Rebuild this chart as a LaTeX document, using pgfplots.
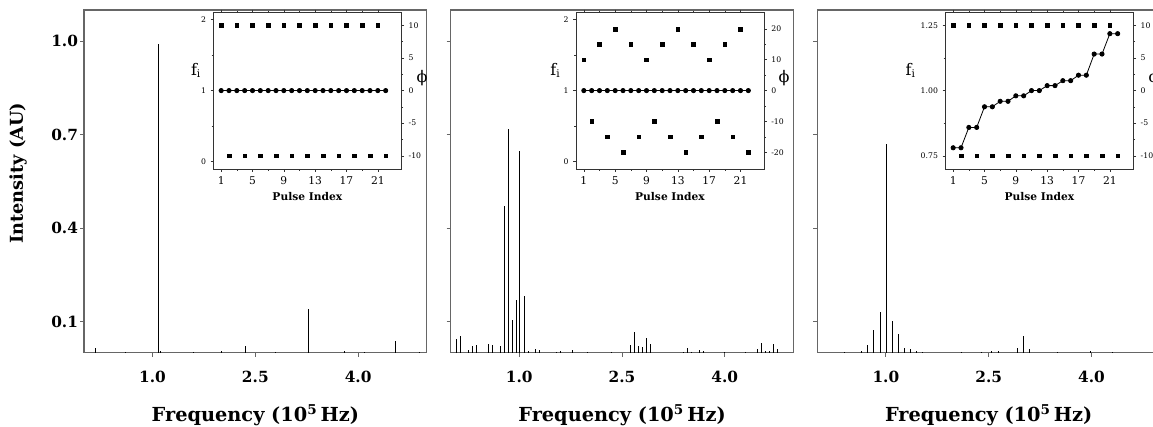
\documentclass[border=0pt]{standalone}
\usepackage{fontspec}
\setmainfont{DejaVu Serif}
\usepackage{pgfplots}
\pgfplotsset{compat=1.18}

\pgfplotsset{
  mainax/.style={
    scale only axis, width=257pt, height=257pt, anchor=south west, clip=false,
    xmin=0, xmax=5, ymin=0, ymax=1.1,
    xtick={1.0,2.5,4.0}, ytick={0.1,0.4,0.7,1.0},
    tick align=outside, tick pos=left, major tick length=3pt,
    axis line style={draw=black!60, line width=0.8pt},
    tick style={draw=black!60, line width=0.7pt},
    ticklabel style={font=\fontsize{11.5}{13}\selectfont\bfseries},
    xticklabel style={yshift=-7pt},
    yticklabel style={xshift=2pt},
    /pgf/number format/assume math mode=true,
    /pgf/number format/fixed, /pgf/number format/fixed zerofill,
    /pgf/number format/precision=1,
    xlabel={Frequency (10\textsuperscript{5}\,Hz)},
    xlabel style={font=\fontsize{14.5}{16}\selectfont\bfseries, at={(axis description cs:0.5,0)}, anchor=base, yshift=-51.75pt},
  },
  spec/.style={ycomb, black, line width=0.75pt, mark=none},
  insetax/.style={
    scale only axis, width=141pt, height=117.5pt, anchor=north west, clip=false,
    xmin=0, xmax=24, xtick={1,5,9,13,17,21}, minor x tick num=1,
    minor y tick num=1,
    tick align=outside, major tick length=2pt, minor tick length=1.3pt,
    axis line style={draw=black!80, line width=0.6pt},
    tick style={draw=black!80, line width=0.5pt},
    yticklabel style={font=\fontsize{5.8}{6}\selectfont},
    xticklabel style={font=\fontsize{8}{9}\selectfont},
    /pgf/number format/assume math mode=true,
  },
  inleft/.style={insetax, xtick pos=both, xticklabel pos=left, ytick pos=left,
    axis background/.style={fill=white},
    xlabel={Pulse Index}, xlabel style={font=\fontsize{8}{9}\selectfont\bfseries, yshift=1pt}},
  inright/.style={insetax, axis x line=none, axis y line*=right, ytick pos=right,
    axis line style={draw=none}},
  circ/.style={black, line width=0.6pt, mark=*, mark size=1.6pt},
  sq/.style={only marks, black, mark=square*, mark size=1.4pt},
}

\begin{document}
\begin{tikzpicture}
% ================= Panel 1 =================
\begin{axis}[mainax, at={(63pt,-264.5pt)},
  ylabel={Intensity (AU)},
  ylabel style={font=\fontsize{13.3}{15}\selectfont\bfseries, at={(axis description cs:-0.1926,0.523)}, anchor=center}]
\addplot[spec] coordinates {
(0.174,0.014) (0.60,0.003) (1.09,0.99) (1.12,0.006) (1.60,0.003) (2.007,0.005)
(2.362,0.022) (2.80,0.003) (3.277,0.141) (3.80,0.004) (4.10,0.003) (4.552,0.038) (4.90,0.003)
};
\end{axis}
\begin{axis}[inleft, at={(160pt,-9.2pt)}, ymin=-0.1, ymax=2.1, ytick={0,1,2}]
\addplot[circ] coordinates {
(1,1) (2,1) (3,1) (4,1) (5,1) (6,1) (7,1) (8,1) (9,1) (10,1) (11,1)
(12,1) (13,1) (14,1) (15,1) (16,1) (17,1) (18,1) (19,1) (20,1) (21,1) (22,1)
};
\node[font=\fontsize{12}{13}\selectfont] at (rel axis cs:0,0.63) [xshift=-13pt] {f\textsubscript{i}};
\end{axis}
\begin{axis}[inright, at={(160pt,-9.2pt)}, ymin=-12, ymax=12, ytick={-10,-5,0,5,10}]
\addplot[sq] coordinates {
(1,10) (2,-10) (3,10) (4,-10) (5,10) (6,-10) (7,10) (8,-10) (9,10) (10,-10) (11,10)
(12,-10) (13,10) (14,-10) (15,10) (16,-10) (17,10) (18,-10) (19,10) (20,-10) (21,10) (22,-10)
};
\node[font=\fontsize{12}{13}\selectfont] at (rel axis cs:1,0.58) [xshift=15.5pt] {ϕ};
\end{axis}

% ================= Panel 2 =================
\begin{axis}[mainax, at={(338pt,-264.5pt)}, yticklabels={}]
\addplot[spec] coordinates {
(0.087,0.044) (0.146,0.053) (0.257,0.007) (0.32,0.022) (0.38,0.025) (0.554,0.029)
(0.613,0.025) (0.73,0.020) (0.788,0.471) (0.846,0.717) (0.905,0.106) (0.963,0.170)
(1.011,0.647) (1.07,0.183) (1.13,0.004) (1.245,0.011) (1.30,0.007) (1.55,0.003)
(1.60,0.005) (1.78,0.008) (2.0,0.003) (2.35,0.003) (2.626,0.025) (2.684,0.067)
(2.743,0.020) (2.80,0.018) (2.86,0.047) (2.918,0.027) (3.40,0.003) (3.458,0.014)
(3.52,0.003) (3.63,0.009) (3.69,0.005) (4.0,0.003) (4.30,0.003) (4.479,0.012)
(4.537,0.031) (4.60,0.005) (4.65,0.005) (4.713,0.029) (4.77,0.013)
};
\end{axis}
\begin{axis}[inleft, at={(432pt,-9.2pt)}, ymin=-0.1, ymax=2.1, ytick={0,1,2}]
\addplot[circ] coordinates {
(1,1) (2,1) (3,1) (4,1) (5,1) (6,1) (7,1) (8,1) (9,1) (10,1) (11,1)
(12,1) (13,1) (14,1) (15,1) (16,1) (17,1) (18,1) (19,1) (20,1) (21,1) (22,1)
};
\node[font=\fontsize{12}{13}\selectfont] at (rel axis cs:0,0.63) [xshift=-15.5pt] {f\textsubscript{i}};
\end{axis}
\begin{axis}[inright, at={(432pt,-9.2pt)}, ymin=-25.4, ymax=25.4, ytick={-20,-10,0,10,20}]
\addplot[sq] coordinates {
(1,10) (2,-10) (3,15) (4,-15) (5,20) (6,-20) (7,15) (8,-15) (9,10) (10,-10) (11,15)
(12,-15) (13,20) (14,-20) (15,15) (16,-15) (17,10) (18,-10) (19,15) (20,-15) (21,20) (22,-20)
};
\node[font=\fontsize{12}{13}\selectfont] at (rel axis cs:1,0.58) [xshift=15pt] {ϕ};
\end{axis}

% ================= Panel 3 =================
\begin{axis}[mainax, at={(613pt,-264.5pt)}, yticklabels={}]
\addplot[spec] coordinates {
(0.40,0.003) (0.647,0.006) (0.735,0.025) (0.822,0.073) (0.915,0.131) (1.002,0.671)
(1.095,0.103) (1.182,0.060) (1.275,0.014) (1.363,0.011) (1.45,0.006) (1.54,0.003)
(2.10,0.003) (2.40,0.003) (2.544,0.006) (2.64,0.006) (2.918,0.014) (3.006,0.055)
(3.093,0.012) (3.50,0.003) (3.98,0.005) (4.30,0.003)
};
\end{axis}
\begin{axis}[inleft, at={(709pt,-9.2pt)}, ymin=0.7, ymax=1.3, ytick={0.75,1.00,1.25},
  yticklabel style={/pgf/number format/.cd, fixed, fixed zerofill, precision=2}]
\addplot[circ] coordinates {
(1,0.781) (2,0.781) (3,0.859) (4,0.859) (5,0.938) (6,0.938) (7,0.959) (8,0.959)
(9,0.980) (10,0.980) (11,1.000) (12,1.000) (13,1.019) (14,1.019) (15,1.038) (16,1.038)
(17,1.059) (18,1.059) (19,1.140) (20,1.140) (21,1.218) (22,1.218)
};
\node[font=\fontsize{12}{13}\selectfont] at (rel axis cs:0,0.63) [xshift=-26pt] {f\textsubscript{i}};
\end{axis}
\begin{axis}[inright, at={(709pt,-9.2pt)}, ymin=-12, ymax=12, ytick={-10,-5,0,5,10}]
\addplot[sq] coordinates {
(1,10) (2,-10) (3,10) (4,-10) (5,10) (6,-10) (7,10) (8,-10) (9,10) (10,-10) (11,10)
(12,-10) (13,10) (14,-10) (15,10) (16,-10) (17,10) (18,-10) (19,10) (20,-10) (21,10) (22,-10)
};
\node[font=\fontsize{12}{13}\selectfont] at (rel axis cs:1,0.58) [xshift=15.5pt] {ϕ};
\end{axis}

\pgfresetboundingbox
\useasboundingbox (0pt,0pt) rectangle (864.75pt,-320.25pt);
\end{tikzpicture}
\end{document}
